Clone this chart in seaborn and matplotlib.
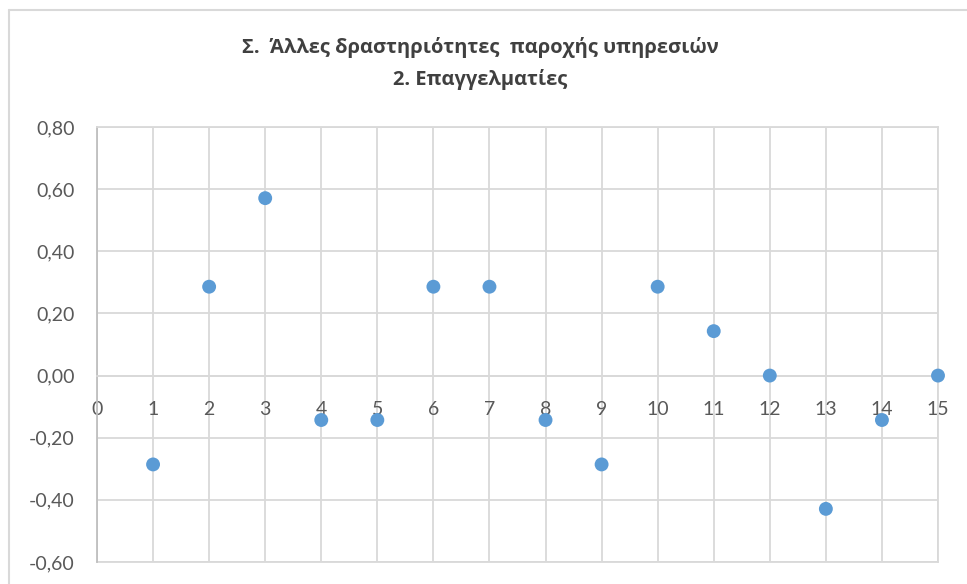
import matplotlib
matplotlib.use("Agg")
import matplotlib.pyplot as plt
from matplotlib.lines import Line2D
from matplotlib.ticker import FuncFormatter, MultipleLocator
import pandas as pd
import seaborn as sns

# Values
x_vals = [1, 2, 3, 4, 5, 6, 7, 8, 9, 10, 11, 12, 13, 14, 15]
y_vals = [-0.286, 0.286, 0.571, -0.143, -0.143, 0.286, 0.286, -0.143,
          -0.286, 0.286, 0.143, 0.0, -0.429, -0.143, 0.0]
x_ticks = list(range(0, 16))
title_line1 = "Σ.  Άλλες δραστηριότητες  παροχής υπηρεσιών"
title_line2 = "2. Επαγγελματίες"

GRID = "#d9d9d9"
TEXT = "#595959"
DOT = "#5b9bd5"

sns.set_theme(style="white")
plt.rcParams["font.family"] = ["Lato", "DejaVu Sans"]

df = pd.DataFrame({"x": x_vals, "y": y_vals})

W, H = 967, 584
fig = plt.figure(figsize=(W / 100, H / 100), dpi=100)
ax = fig.add_axes([97 / W, 1 - 562 / H, (938 - 97) / W, (562 - 127) / H])

ax.set_xlim(0, 15)
ax.set_ylim(-0.6, 0.8)
ax.grid(True, color=GRID, linewidth=1.3)
ax.set_axisbelow(True)

sns.scatterplot(data=df, x="x", y="y", ax=ax, s=100, color=DOT,
                edgecolor="none", zorder=3, clip_on=False)

ax.set_xticks(x_ticks)
ax.yaxis.set_major_locator(MultipleLocator(0.2))
ax.yaxis.set_major_formatter(FuncFormatter(lambda v, p: f"{v:.2f}".replace(".", ",")))
ax.set_xlabel("")
ax.set_ylabel("")

# x axis sits on y = 0
ax.spines["bottom"].set_position(("data", 0))
ax.spines["bottom"].set_color(GRID)
ax.spines["bottom"].set_linewidth(1.3)
ax.spines["left"].set_color("#bfbfbf")
ax.spines["left"].set_linewidth(1.3)
for side in ["top", "right"]:
    ax.spines[side].set_color(GRID)
    ax.spines[side].set_linewidth(1.3)
ax.axhline(-0.6, color=GRID, linewidth=1.3, clip_on=False, zorder=1)

ax.tick_params(axis="x", length=0, pad=18, labelsize=14, labelcolor=TEXT)
ax.tick_params(axis="y", length=0, pad=16, labelsize=14, labelcolor=TEXT)

# title, two centred lines
title_font = dict(ha="center", va="center", fontsize=14.5, fontweight="bold",
                  color="#404040", family=["Open Sans", "DejaVu Sans"])
fig.text(0.497, 1 - 48 / H, title_line1, **title_font)
fig.text(0.497, 1 - 80 / H, title_line2, **title_font)

# chart frame (only left and top edges are inside the crop)
fig.add_artist(Line2D([8.5 / W, 8.5 / W], [0, 1 - 9.5 / H], color=GRID,
                      linewidth=1.5, transform=fig.transFigure))
fig.add_artist(Line2D([8.5 / W, 1], [1 - 9.5 / H, 1 - 9.5 / H], color=GRID,
                      linewidth=1.5, transform=fig.transFigure))

fig.savefig("out.png", dpi=100)
